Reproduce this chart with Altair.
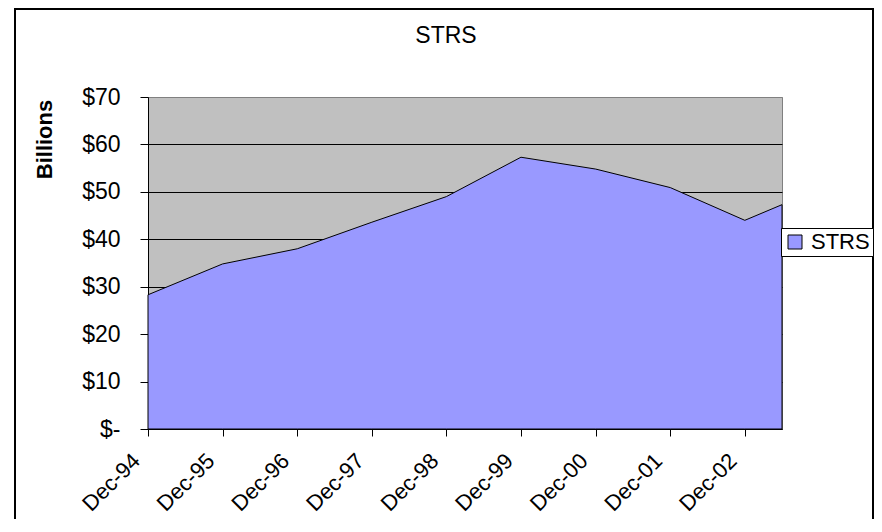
import altair as alt
import pandas as pd

# Data
dates = ["1994-12-01T00:00:00", "1995-12-01T00:00:00", "1996-12-01T00:00:00",
         "1997-12-01T00:00:00", "1998-12-01T00:00:00", "1999-12-01T00:00:00",
         "2000-12-01T00:00:00", "2001-12-01T00:00:00", "2002-12-01T00:00:00",
         "2003-06-01T00:00:00"]
values = [28.3, 34.8, 38.0, 43.6, 49.0, 57.3, 54.8, 50.9, 44.0, 47.3]
series = ["STRS"] * len(values)
tick_years = [1994, 1995, 1996, 1997, 1998, 1999, 2000, 2001, 2002]
y_ticks = [0, 10, 20, 30, 40, 50, 60, 70]
chart_title = "STRS"
y_title = "Billions"

df = pd.DataFrame({"date": dates, "value": values, "series": series})

FONT = "Liberation Sans"
W, H = 634, 332

x_enc = alt.X(
    "date:T",
    scale=alt.Scale(domain=[alt.DateTime(year=1994, month=12, date=1),
                            alt.DateTime(year=2003, month=6, date=1)], nice=False),
    axis=alt.Axis(
        values=[alt.DateTime(year=y, month=12, date=1) for y in tick_years],
        format="%b-%y", title=None, grid=False,
        labelAngle=-45, labelAlign="right", labelBaseline="middle",
        labelPadding=21, labelOffset=-12, labelFontSize=22, labelFont=FONT,
        labelColor="black", tickColor="black", tickSize=7,
        domainColor="black", labelOverlap=False, labelFlush=False,
    ),
)

y_enc = alt.Y(
    "value:Q",
    scale=alt.Scale(domain=[0, 70], nice=False),
    axis=alt.Axis(
        values=y_ticks, title=y_title,
        labelExpr="datum.value == 0 ? '$-' : '$' + datum.value",
        labelFontSize=23, labelFont=FONT, labelColor="black", labelPadding=20,
        tickColor="black", tickSize=8, domainColor="black",
        grid=True, gridColor=alt.condition("datum.value == 70", alt.value("#808080"), alt.value("black")),
        gridWidth=1,
        titleFont=FONT, titleFontSize=22, titleFontWeight="bold", titleColor="black",
        titleAngle=270, titleX=-104, titleY=42, titleAlign="center", titleBaseline="middle",
    ),
)

area = alt.Chart(df).mark_area(stroke="black", strokeWidth=1, opacity=1).encode(
    x=x_enc,
    y=y_enc,
    color=alt.Color(
        "series:N",
        scale=alt.Scale(domain=["STRS"], range=["#9999FF"]),
        legend=alt.Legend(
            title=None, orient="none", legendX=633, legendY=131,
            padding=3, strokeColor="black", fillColor="white",
            symbolType="square", symbolSize=196, symbolStrokeColor="black",
            symbolStrokeWidth=1, labelFontSize=22, labelFont=FONT,
            labelColor="black", labelOffset=5,
        ),
    ),
)

frame_df = pd.DataFrame({"k": [0]})
frame = alt.Chart(frame_df).mark_rect(fill=None, stroke="black", strokeWidth=2).encode(
    x=alt.value(-133), x2=alt.value(725), y=alt.value(-88), y2=alt.value(460)
)

title_df = pd.DataFrame({"t": [chart_title]})
title = alt.Chart(title_df).mark_text(
    font=FONT, fontSize=23, color="black", align="center", baseline="alphabetic"
).encode(x=alt.value(298), y=alt.value(-54), text="t:N")

chart = alt.layer(area, frame, title).properties(
    width=W, height=H, autosize="none",
    padding={"left": 140, "top": 89, "right": 92, "bottom": 90},
).configure_view(fill="#C0C0C0", stroke="#808080")

chart.save("out.html", embed_options={"renderer": "svg", "actions": False})
